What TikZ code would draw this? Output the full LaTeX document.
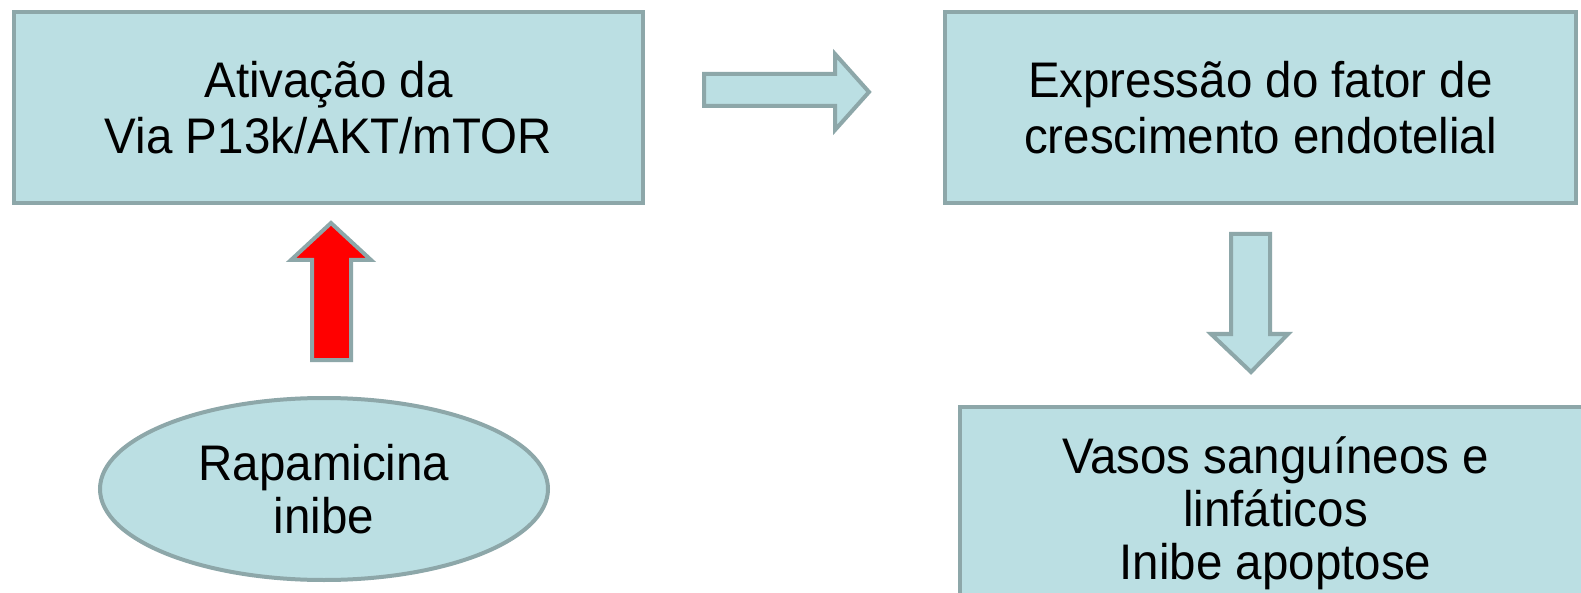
\documentclass[tikz,border=0pt]{standalone}
\usepackage{fontspec}
\setmainfont{Liberation Sans}[FakeStretch=0.95]
\usetikzlibrary{shapes.geometric}
\definecolor{boxfill}{HTML}{BBDFE3}
\definecolor{boxline}{HTML}{8DA7A9}
\tikzset{
  txt/.style={font=\fontsize{50}{53}\selectfont, align=center, text=black},
  txtwide/.style={font=\fontsize{50}{56}\selectfont},
  stagebox/.style={txt, draw=boxline, fill=boxfill, line width=4pt, rectangle, inner sep=0pt},
  drugoval/.style={txt, draw=boxline, fill=boxfill, line width=4pt, ellipse, inner sep=0pt},
  blockarrow/.style={draw=boxline, fill=boxfill, line width=4pt, line join=miter},
  redarrow/.style={draw=boxline, fill=red, line width=4pt, line join=miter}
}
\begin{document}
\begin{tikzpicture}[x=1pt,y=-1pt]
\useasboundingbox (0,0) rectangle (1581,593);
\fill[white] (0,0) rectangle (1581,593);
\begin{scope}
\clip (0,0) rectangle (1581,593);
\node[stagebox, txtwide, minimum width=629pt, minimum height=191pt] (act) at (328.5,107.5) {Ativação da\\Via P13k/AKT/mTOR};
\node[stagebox, txtwide, minimum width=631pt, minimum height=191pt] (expr) at (1260.5,107.5) {Expressão do fator de\\crescimento endotelial};
\node[stagebox, minimum width=631pt, minimum height=213pt] (vasos) at (1275.5,513.5) {Vasos sanguíneos e\\linfáticos\\Inibe apoptose};
\node[drugoval, minimum width=448pt, minimum height=182pt] (rapa) at (324,489) {Rapamicina\\inibe};
% right block arrow (act -> expr)
\draw[blockarrow] (704,74) -- (835,74) -- (835,54) -- (869,92) -- (835,130) -- (835,106) -- (704,106) -- cycle;
% red up arrow (rapa -> act)
\draw[redarrow] (312,360) -- (312,260) -- (291,260) -- (331,223) -- (371,260) -- (351,260) -- (351,360) -- cycle;
% down block arrow (expr -> vasos)
\draw[blockarrow] (1231,234) -- (1270,234) -- (1270,334) -- (1288,334) -- (1251,372) -- (1211,334) -- (1231,334) -- cycle;
\end{scope}
\end{tikzpicture}
\end{document}
